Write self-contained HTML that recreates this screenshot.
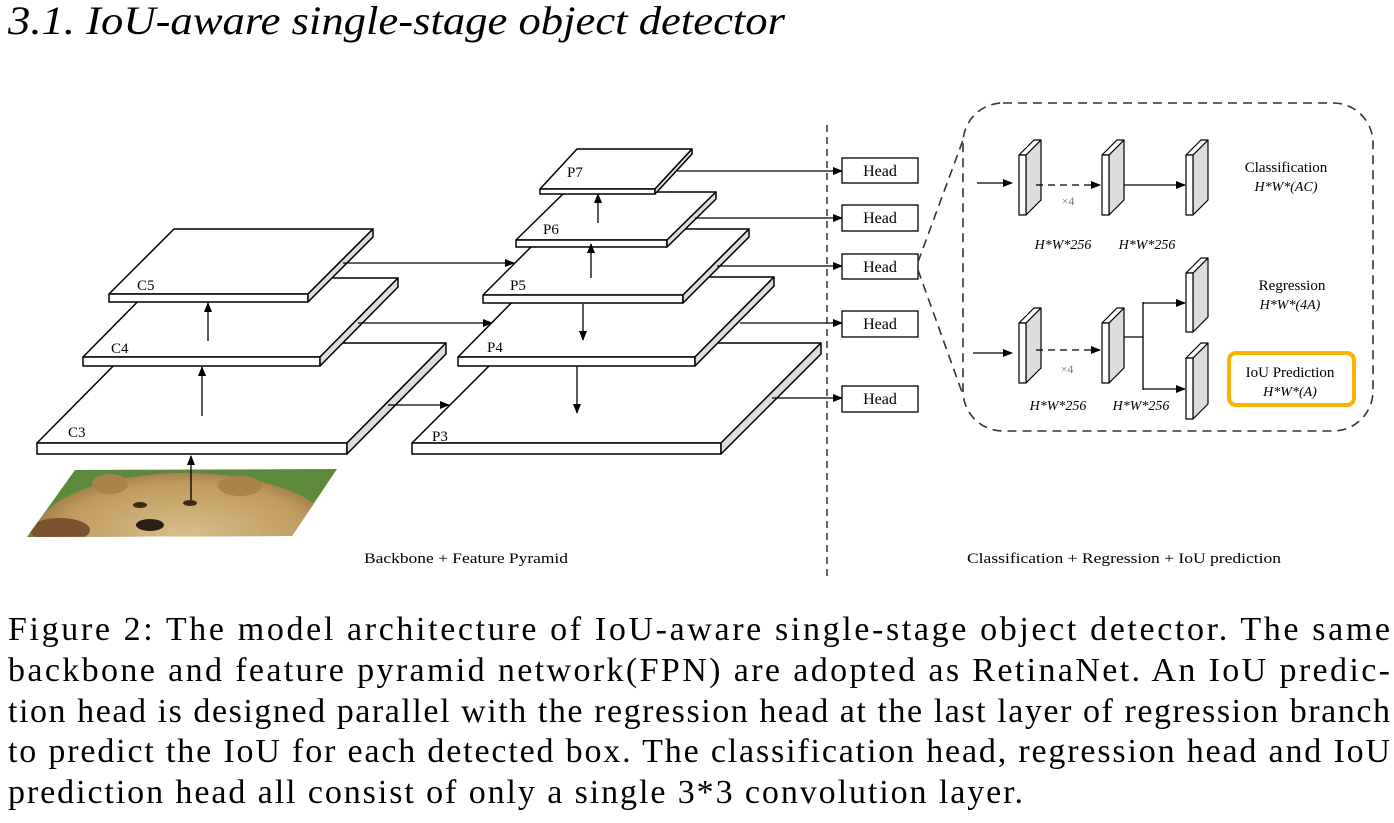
<!DOCTYPE html>
<html><head><meta charset="utf-8"><style>
html,body{margin:0;padding:0;background:#fff;width:1394px;height:823px;overflow:hidden}
svg{display:block}
</style></head><body>
<svg width="1394" height="823" viewBox="0 0 1394 823" xmlns="http://www.w3.org/2000/svg" font-family="'Liberation Serif',serif">
<defs>
<marker id="ah" markerWidth="10" markerHeight="8" refX="9" refY="4" orient="auto" markerUnits="userSpaceOnUse"><path d="M0,0 L10,4 L0,8 z" fill="#000"/></marker>
<clipPath id="bc"><polygon points="75,470 337,469 292,536 27,537"/></clipPath>
<radialGradient id="fur" cx="0.5" cy="0.5" r="0.6"><stop offset="0" stop-color="#d8bf8c"/><stop offset="0.7" stop-color="#bf9a5e"/><stop offset="1" stop-color="#8a6838"/></radialGradient>
</defs>

<text x="8" y="34" font-size="40" font-style="italic" textLength="777" lengthAdjust="spacingAndGlyphs">3.1.  IoU-aware single-stage object detector</text>

<g clip-path="url(#bc)">
<rect x="20" y="465" width="330" height="80" fill="#5d8a3a"/>
<ellipse cx="185" cy="535" rx="150" ry="62" fill="url(#fur)"/>
<ellipse cx="110" cy="484" rx="18" ry="10" fill="#a8834c"/>
<ellipse cx="240" cy="486" rx="22" ry="10" fill="#a8834c"/>
<ellipse cx="140" cy="505" rx="7" ry="3" fill="#3a2a18"/>
<ellipse cx="190" cy="503" rx="7" ry="3" fill="#3a2a18"/>
<ellipse cx="150" cy="525" rx="14" ry="6" fill="#2a2018"/>
<ellipse cx="60" cy="530" rx="30" ry="12" fill="#7a5230"/>
</g>

<g stroke="#000" stroke-width="1.5" stroke-linejoin="round">
<polygon points="136,343 446,343 347,443 37,443" fill="#fff"/>
<rect x="37" y="443" width="310" height="11" fill="#fff"/>
<polygon points="347,443 446,343 446,354 347,454" fill="#ddd"/>
<polygon points="161,278 398,278 320,357 83,357" fill="#fff"/>
<rect x="83" y="357" width="237" height="9" fill="#fff"/>
<polygon points="320,357 398,278 398,287 320,366" fill="#ddd"/>
<polygon points="174,229 373,229 308,294 109,294" fill="#fff"/>
<rect x="109" y="294" width="199" height="8" fill="#fff"/>
<polygon points="308,294 373,229 373,237 308,302" fill="#ddd"/>
<polygon points="512,343 821,343 721,443 412,443" fill="#fff"/>
<rect x="412" y="443" width="309" height="11" fill="#fff"/>
<polygon points="721,443 821,343 821,354 721,454" fill="#ddd"/>
<polygon points="537,277 774,277 695,357 458,357" fill="#fff"/>
<rect x="458" y="357" width="237" height="9" fill="#fff"/>
<polygon points="695,357 774,277 774,286 695,366" fill="#ddd"/>
<polygon points="549,229 749,229 683,295 483,295" fill="#fff"/>
<rect x="483" y="295" width="200" height="8" fill="#fff"/>
<polygon points="683,295 749,229 749,237 683,303" fill="#ddd"/>
<polygon points="565,192 716,192 667,240 516,240" fill="#fff"/>
<rect x="516" y="240" width="151" height="7" fill="#fff"/>
<polygon points="667,240 716,192 716,199 667,247" fill="#ddd"/>
<polygon points="577,149 692,149 655,189 540,189" fill="#fff"/>
<rect x="540" y="189" width="115" height="5" fill="#fff"/>
<polygon points="655,189 692,149 692,154 655,194" fill="#ddd"/>
</g>

<g font-size="15">
<text x="137" y="290">C5</text><text x="111" y="353">C4</text><text x="68" y="437">C3</text>
<text x="567" y="177">P7</text><text x="543" y="234">P6</text><text x="510" y="290">P5</text><text x="487" y="352">P4</text><text x="432" y="441">P3</text>
</g>

<g stroke="#000" stroke-width="1.3" fill="none" marker-end="url(#ah)">
<line x1="191" y1="500" x2="191" y2="456"/>
<line x1="202" y1="416" x2="202" y2="367"/>
<line x1="208" y1="341" x2="208" y2="303"/>
<line x1="343" y1="263" x2="514" y2="263"/>
<line x1="358" y1="323" x2="492" y2="323"/>
<line x1="388" y1="405" x2="449" y2="405"/>
<line x1="598" y1="223" x2="598" y2="194"/>
<line x1="591" y1="278" x2="591" y2="244"/>
<line x1="583" y1="304" x2="583" y2="340"/>
<line x1="577" y1="366" x2="577" y2="413"/>
<line x1="677" y1="171" x2="842" y2="171"/>
<line x1="695" y1="218" x2="842" y2="218"/>
<line x1="717" y1="266" x2="842" y2="266"/>
<line x1="740" y1="323" x2="842" y2="323"/>
<line x1="772" y1="398" x2="842" y2="398"/>
</g>

<line x1="827" y1="125" x2="827" y2="578" stroke="#333" stroke-width="1.5" stroke-dasharray="7,5"/>

<g stroke="#000" stroke-width="1.3" fill="#fff">
<rect x="842" y="158" width="76" height="25"/>
<rect x="842" y="205" width="76" height="26"/>
<rect x="842" y="254" width="76" height="25"/>
<rect x="842" y="311" width="76" height="26"/>
<rect x="842" y="386" width="76" height="26"/>
</g>
<g font-size="16" text-anchor="middle">
<text x="880" y="176">Head</text><text x="880" y="223">Head</text><text x="880" y="272">Head</text><text x="880" y="329">Head</text><text x="880" y="404">Head</text>
</g>

<g stroke="#333" stroke-width="1.6" fill="none" stroke-dasharray="9,6">
<rect x="963" y="103" width="410" height="328" rx="40"/>
<line x1="918" y1="262" x2="963" y2="140"/>
<line x1="918" y1="270" x2="963" y2="395"/>
</g>

<g stroke="#000" stroke-width="1.2" stroke-linejoin="round">
<polygon points="1026,155 1041,140 1041,200 1026,215" fill="#ddd"/>
<polygon points="1019,155 1034,140 1041,140 1026,155" fill="#fff"/>
<rect x="1019" y="155" width="7" height="60" fill="#fff"/>
<polygon points="1109,155 1124,140 1124,200 1109,215" fill="#ddd"/>
<polygon points="1102,155 1117,140 1124,140 1109,155" fill="#fff"/>
<rect x="1102" y="155" width="7" height="60" fill="#fff"/>
<polygon points="1193,155 1208,140 1208,200 1193,215" fill="#ddd"/>
<polygon points="1186,155 1201,140 1208,140 1193,155" fill="#fff"/>
<rect x="1186" y="155" width="7" height="60" fill="#fff"/>
<polygon points="1026,323 1041,308 1041,368 1026,383" fill="#ddd"/>
<polygon points="1019,323 1034,308 1041,308 1026,323" fill="#fff"/>
<rect x="1019" y="323" width="7" height="60" fill="#fff"/>
<polygon points="1109,323 1124,308 1124,368 1109,383" fill="#ddd"/>
<polygon points="1102,323 1117,308 1124,308 1109,323" fill="#fff"/>
<rect x="1102" y="323" width="7" height="60" fill="#fff"/>
<polygon points="1193,273 1208,258 1208,317 1193,332" fill="#ddd"/>
<polygon points="1186,273 1201,258 1208,258 1193,273" fill="#fff"/>
<rect x="1186" y="273" width="7" height="59" fill="#fff"/>
<polygon points="1193,358 1208,343 1208,404 1193,419" fill="#ddd"/>
<polygon points="1186,358 1201,343 1208,343 1193,358" fill="#fff"/>
<rect x="1186" y="358" width="7" height="61" fill="#fff"/>
</g>

<g stroke="#000" stroke-width="1.3" fill="none" marker-end="url(#ah)">
<line x1="977" y1="183" x2="1012" y2="183"/>
<line x1="1036" y1="185" x2="1100" y2="185" stroke-dasharray="7,5"/>
<line x1="1124" y1="185" x2="1185" y2="185"/>
<line x1="973" y1="353" x2="1012" y2="353"/>
<line x1="1036" y1="350" x2="1100" y2="350" stroke-dasharray="7,5"/>
<polyline points="1143,303 1185,303"/>
<polyline points="1143,389 1185,389"/>
</g>
<polyline points="1124,337 1143,337" stroke="#000" stroke-width="1.3" fill="none"/>
<line x1="1143" y1="302" x2="1143" y2="390" stroke="#000" stroke-width="1.3"/>

<g font-size="12" fill="#777" text-anchor="middle"><text x="1068" y="205">×4</text><text x="1067" y="373">×4</text></g>
<g font-size="14" font-style="italic" text-anchor="middle">
<text x="1063" y="249">H*W*256</text><text x="1147" y="249">H*W*256</text>
<text x="1058" y="410">H*W*256</text><text x="1141" y="410">H*W*256</text>
<text x="1286" y="191">H*W*(AC)</text><text x="1290" y="309">H*W*(4A)</text><text x="1290" y="396">H*W*(A)</text>
</g>
<g font-size="15" text-anchor="middle">
<text x="1286" y="172">Classification</text><text x="1292" y="290">Regression</text><text x="1290" y="377">IoU Prediction</text>
</g>
<rect x="1229" y="353" width="125" height="52" rx="7" fill="none" stroke="#f7b500" stroke-width="4"/>

<g font-size="15">
<text x="364" y="563" textLength="204" lengthAdjust="spacingAndGlyphs">Backbone + Feature Pyramid</text>
<text x="967" y="563" textLength="314" lengthAdjust="spacingAndGlyphs">Classification + Regression + IoU prediction</text>
</g>

<g font-size="34" lengthAdjust="spacingAndGlyphs">
<text x="8" y="640" textLength="1382">Figure 2:  The model architecture of IoU-aware single-stage object detector.  The same</text>
<text x="8" y="681" textLength="1382">backbone and feature pyramid network(FPN) are adopted as RetinaNet. An IoU predic-</text>
<text x="8" y="722" textLength="1382">tion head is designed parallel with the regression head at the last layer of regression branch</text>
<text x="8" y="762" textLength="1382">to predict the IoU for each detected box. The classification head, regression head and IoU</text>
<text x="8" y="803" textLength="1015">prediction head all consist of only a single 3*3 convolution layer.</text>
</g>
</svg>
</body></html>
